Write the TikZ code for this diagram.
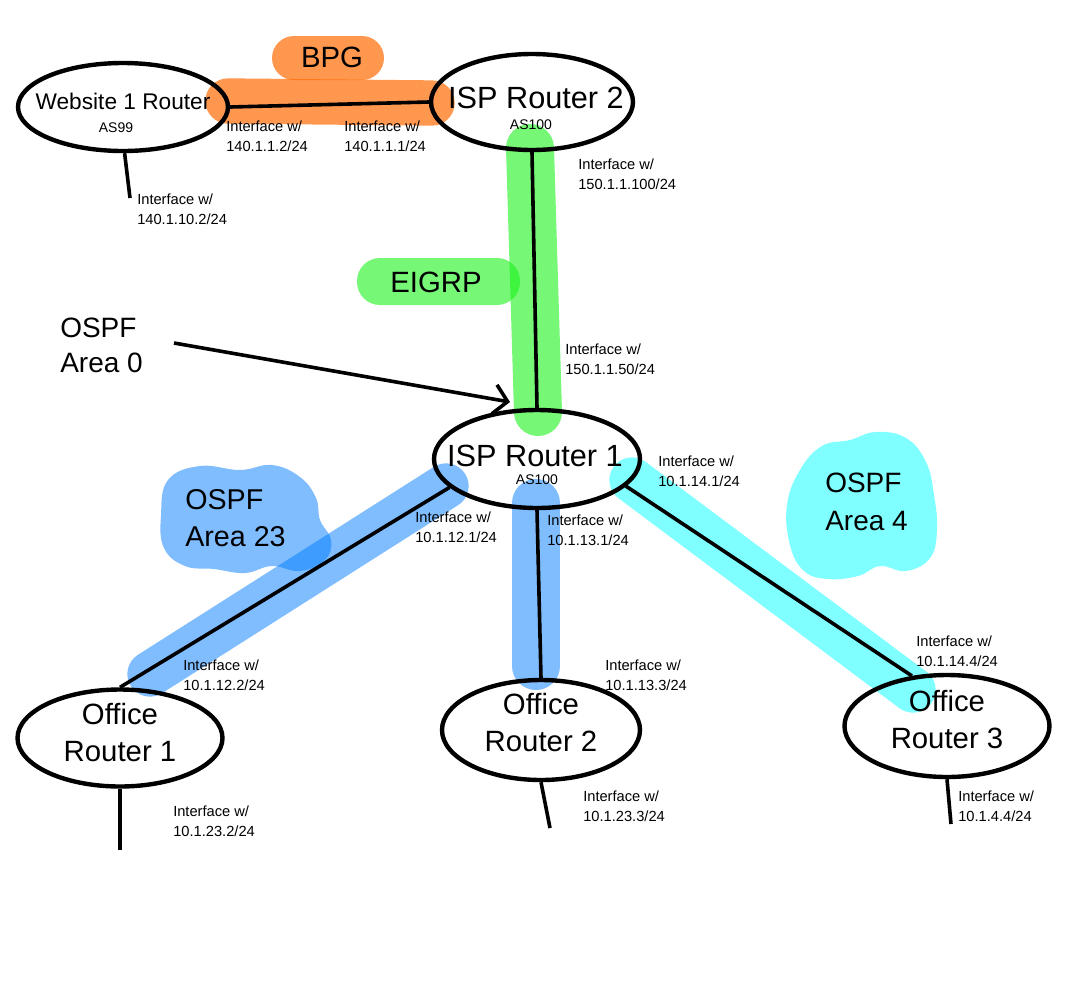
\documentclass[tikz,border=0pt]{standalone}
\usepackage{fontspec}
\setmainfont{Liberation Sans}
\usetikzlibrary{shapes.geometric,arrows.meta}
\definecolor{orgC}{RGB}{255,108,5}
\definecolor{grnC}{RGB}{27,243,27}
\definecolor{bluC}{RGB}{1,125,255}
\definecolor{cyaC}{RGB}{1,255,255}
\tikzset{
  router/.style={draw, ellipse, line width=3.3pt, inner sep=0pt},
  link/.style={line width=2.7pt},
  band/.style={line width=34pt, line cap=round},
  lbl/.style={font=\fontsize{11}{14.5}\selectfont, align=left, anchor=north west, inner sep=0pt},
  astxt/.style={font=\fontsize{10.5}{12}\selectfont, inner sep=0pt},
  bigtxt/.style={font=\fontsize{22}{27.75}\selectfont, align=center, inner sep=0pt},
  areatxt/.style={font=\fontsize{21.5}{27.75}\selectfont, align=left, anchor=west, inner sep=0pt},
}
\begin{document}
\begin{tikzpicture}[x=0.75pt, y=-0.75pt]
\useasboundingbox (0,0) rectangle (1065,1000);
\fill[white] (0,0) rectangle (1065,1000);

% ---- coloured highlights ----
\draw[band, draw=orgC, draw opacity=0.7] (228,101) -- (432,103);
\fill[orgC, fill opacity=0.7, rounded corners=22*0.75pt] (272,36) rectangle (384,80);

\draw[band, draw=grnC, draw opacity=0.6, line width=36pt] (530,148) -- (538,412);
\fill[grnC, fill opacity=0.6, rounded corners=23*0.75pt] (357,258) rectangle (520,305);

\draw[band, draw=bluC, draw opacity=0.5] (446,486) -- (150,674);
\draw[band, draw=bluC, draw opacity=0.5, line width=36pt] (536,503) -- (536,666);
\fill[bluC, fill opacity=0.5] plot[smooth cycle, tension=0.7] coordinates {
  (168,480) (200,466) (240,470) (272,465) (300,477) (316,498) (320,520)
  (331,540) (325,560) (300,571) (272,566) (245,573) (214,569) (185,566)
  (164,548) (161,515)};

\draw[band, draw=cyaC, draw opacity=0.5] (632,480) -- (913,690);
\fill[cyaC, fill opacity=0.5] plot[smooth cycle, tension=0.7] coordinates {
  (800,470) (822,446) (850,440) (876,432) (906,438) (926,462) (934,495)
  (937,530) (930,558) (906,571) (880,566) (858,576) (828,579) (804,571)
  (790,545) (787,505)};

% ---- routers ----
\node[router, minimum width=157.5pt, minimum height=66pt] (web) at (123,107) {};
\node[router, minimum width=151.5pt, minimum height=72pt] (isp2) at (532,102) {};
\node[router, minimum width=154.5pt, minimum height=73.5pt] (isp1) at (537,459) {};
\node[router, minimum width=153.75pt, minimum height=72.75pt] (or1) at (120,738) {};
\node[router, minimum width=148.5pt, minimum height=75pt] (or2) at (541,730) {};
\node[router, minimum width=153.75pt, minimum height=76.5pt] (or3) at (947,726) {};

% ---- router texts ----
\node[font=\fontsize{17}{20}\selectfont, inner sep=0pt] (tweb) at (123,101) {Website 1 Router};
\node[astxt] (as99) at (116,128) {AS99};
\node[font=\fontsize{23}{26}\selectfont, inner sep=0pt] (tisp2) at (536,98) {ISP Router 2};
\node[astxt] (as100b) at (531,125) {AS100};
\node[font=\fontsize{23}{26}\selectfont, inner sep=0pt] (tisp1) at (535,456) {ISP Router 1};
\node[astxt] (as100a) at (537,480) {AS100};
\node[bigtxt] (tor1) at (120,733) {Office\\Router 1};
\node[bigtxt] (tor2) at (541,723) {Office\\Router 2};
\node[bigtxt] (tor3) at (947,720) {Office\\Router 3};

% ---- protocol / area texts ----
\node[font=\fontsize{22}{26}\selectfont, inner sep=0pt] (tbpg) at (332,57) {BPG};
\node[font=\fontsize{22}{26}\selectfont, inner sep=0pt] (teigrp) at (436,282) {EIGRP};
\node[areatxt] (ta23) at (185,518) {OSPF\\Area 23};
\node[areatxt, font=\fontsize{21}{28.5}\selectfont] (ta4) at (825,502) {OSPF\\Area 4};
\node[areatxt, font=\fontsize{21}{26.25}\selectfont] (ta0) at (60,345) {OSPF\\Area 0};

% ---- links ----
\draw[link] (web.east) -- (isp2.west);
\draw[link] (isp2.south) -- (isp1.north);
\draw[link] (isp1.198) -- (or1.north);
\draw[link] (isp1.south) -- (or2.north);
\draw[link] (isp1.-17) -- (or3.125);

% ---- stubs ----
\coordinate (sweb) at (130,198);
\coordinate (sor1) at (120,850);
\coordinate (sor2) at (550,828);
\coordinate (sor3) at (951,824);
\draw[link] (web.-88) -- (sweb);
\draw[link] (or1.south) -- (sor1);
\draw[link] (or2.south) -- (sor2);
\draw[link] (or3.south) -- (sor3);

% ---- OSPF area 0 arrow ----
\coordinate (a0s) at (174,343);
\coordinate (a0e) at (510,402);
\draw[link, -{Straight Barb[length=10pt, width=22pt]}] (a0s) -- (a0e);

% ---- interface labels ----
\node[lbl] (l1) at (226,121) {Interface w/\\140.1.1.2/24};
\node[lbl] (l2) at (344,121) {Interface w/\\140.1.1.1/24};
\node[lbl] (l3) at (137,194) {Interface w/\\140.1.10.2/24};
\node[lbl] (l4) at (578,159) {Interface w/\\150.1.1.100/24};
\node[lbl] (l5) at (565,344) {Interface w/\\150.1.1.50/24};
\node[lbl] (l6) at (658,456) {Interface w/\\10.1.14.1/24};
\node[lbl] (l7) at (415,512) {Interface w/\\10.1.12.1/24};
\node[lbl] (l8) at (547,515) {Interface w/\\10.1.13.1/24};
\node[lbl] (l9) at (183,660) {Interface w/\\10.1.12.2/24};
\node[lbl] (l10) at (605,660) {Interface w/\\10.1.13.3/24};
\node[lbl] (l11) at (916,636) {Interface w/\\10.1.14.4/24};
\node[lbl] (l12) at (173,806) {Interface w/\\10.1.23.2/24};
\node[lbl] (l13) at (583,791) {Interface w/\\10.1.23.3/24};
\node[lbl] (l14) at (958,791) {Interface w/\\10.1.4.4/24};
\end{tikzpicture}
\end{document}
